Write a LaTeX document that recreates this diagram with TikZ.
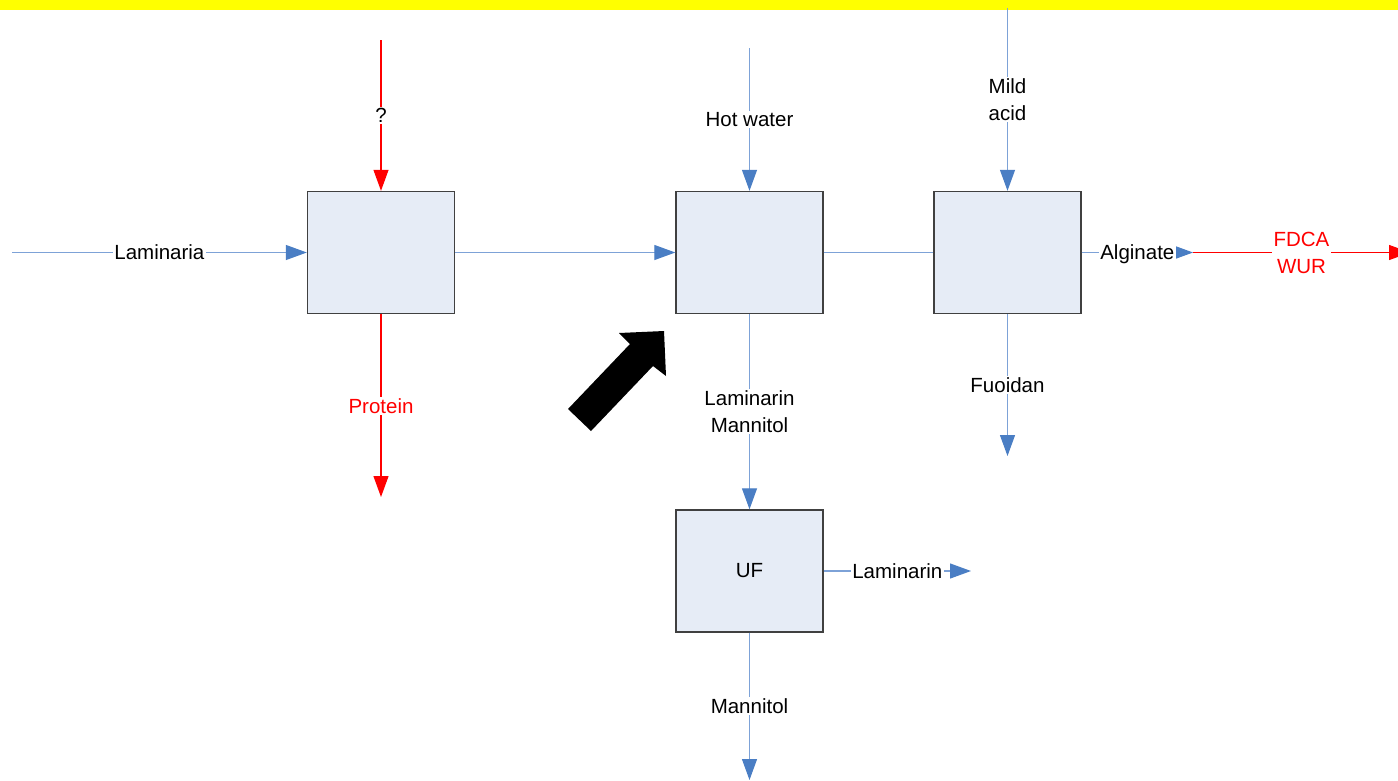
\documentclass[tikz,border=0pt]{standalone}
\usepackage{fontspec}
\setmainfont{Liberation Sans}
\usetikzlibrary{arrows.meta}
\definecolor{lineblue}{RGB}{125,162,215}
\definecolor{tipblue}{RGB}{74,126,196}
\definecolor{boxfill}{RGB}{230,236,246}
\definecolor{boxline}{RGB}{64,64,64}
\definecolor{band}{RGB}{255,255,0}
\begin{document}
\begin{tikzpicture}[x=1pt,y=-1pt,
  proc/.style={draw=boxline,line width=1.4pt,fill=boxfill,minimum width=147pt,minimum height=122pt,inner sep=0pt,font=\fontsize{20.5}{27}\selectfont},
  bflow/.style={draw=lineblue,line width=1.2pt,-{Triangle[length=21pt,width=15pt,color=tipblue]}},
  bline/.style={draw=lineblue,line width=1.2pt},
  rflow/.style={draw=red,line width=1.2pt,-{Triangle[length=21pt,width=15pt,color=red]}},
  lab/.style={fill=white,inner sep=1.5pt,align=center,text depth=0pt,font=\fontsize{20.5}{27}\selectfont,text=black},
  rlab/.style={lab,text=red}]
\useasboundingbox (0,0) rectangle (1398,780);
\clip (0,0) rectangle (1398,780);
\fill[white] (0,0) rectangle (1398,780);
\fill[band] (0,0) rectangle (1398,10);

% process boxes
\node[proc] (b1) at (381,252.5) {};
\node[proc] (b2) at (749.5,252.5) {};
\node[proc] (b3) at (1007.5,252.5) {};
\node[proc] (uf) at (749.5,571) {UF};

% free ends
\coordinate (lamin) at (12,252.5);
\coordinate (qin) at (381,40);
\coordinate (protout) at (381,497);
\coordinate (hwin) at (749.5,48);
\coordinate (acidin) at (1007.5,8);
\coordinate (fucout) at (1007.5,456);
\coordinate (algend) at (1193,252.5);
\coordinate (fdcaend) at (1410,252.5);
\coordinate (lamout) at (971,571);
\coordinate (manout) at (749.5,780);

% connectors
\draw[bflow] (lamin) -- (b1.west) node[lab,midway] (tlaminaria) {Laminaria};
\draw[rflow] (qin) -- (b1.north) node[lab,midway] (tq) {?};
\draw[rflow] (b1.south) -- (protout) node[rlab,midway] (tprotein) {Protein};
\draw[bflow] (b1.east) -- (b2.west);
\draw[bflow] (hwin) -- (b2.north) node[lab,midway] (thw) {Hot water};
\draw[bline] (b2.east) -- (b3.west);
\draw[bflow] (acidin) -- (b3.north) node[lab,midway] (tacid) {Mild\\acid};
\draw[bflow] (b3.south) -- (fucout) node[lab,midway] (tfuc) {Fuoidan};
\draw[bflow] (b3.east) -- (algend) node[lab,midway] (talg) {Alginate};
\draw[rflow] (algend) -- (fdcaend) node[rlab,midway] (tfdca) {FDCA\\WUR};
\draw[bflow] (b2.south) -- (uf.north) node[lab,midway] (tlm) {Laminarin\\Mannitol};
\draw[bflow] (uf.east) -- (lamout) node[lab,midway] (tlam) {Laminarin};
\draw[bflow] (uf.south) -- (manout) node[lab,midway] (tman) {Mannitol};

% black pointer arrow
\fill[black] (568,409) -- (630,344) -- (619,333) -- (664,331) -- (666,376) -- (653,366) -- (591,431) -- cycle;
\end{tikzpicture}
\end{document}
